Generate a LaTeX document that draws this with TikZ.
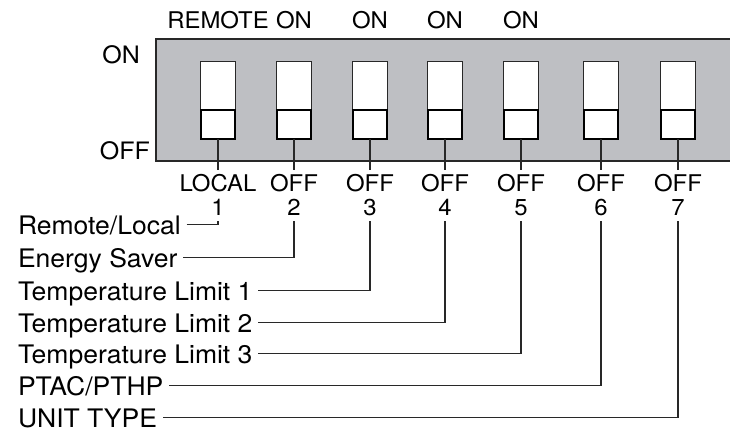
\documentclass[tikz,border=0pt]{standalone}
\usepackage{fontspec}
\setmainfont{TeX Gyre Heros}[FakeStretch=1.04]
\definecolor{panelgray}{RGB}{190,191,195}
\definecolor{edgegray}{RGB}{40,40,40}
\begin{document}
\begin{tikzpicture}[x=1pt,y=-1pt,
  panel/.style={fill=panelgray},
  paneledge/.style={draw=edgegray,line width=2.2pt},
  swtop/.style={draw=edgegray,fill=white,line width=1pt,minimum width=34.5pt,minimum height=77pt,inner sep=0pt,outer sep=0pt},
  swbot/.style={draw=black,fill=white,line width=2pt,minimum width=34.5pt,minimum height=29pt,inner sep=0pt,outer sep=0pt},
  toplbl/.style={anchor=base,inner sep=0pt,font=\fontsize{23}{26}\selectfont},
  sidelbl/.style={anchor=base east,inner sep=0pt,font=\fontsize{24}{27}\selectfont},
  offlbl/.style={anchor=base,inner sep=0pt,outer sep=4pt,font=\fontsize{23}{26}\selectfont},
  numlbl/.style={anchor=base,inner sep=0pt,outer sep=6pt,font=\fontsize{23}{26}\selectfont},
  namelbl/.style={anchor=base west,inner sep=0pt,outer xsep=6pt,text height=19pt,text depth=0pt,font=\fontsize{25.5}{30}\selectfont},
  conn/.style={draw=edgegray,line width=1.1pt}
]
\useasboundingbox (0,0) rectangle (730,433);
% panel
\fill[panel] (156,39) rectangle (735,161);
\draw[paneledge] (735,39) -- (156,39) -- (156,161) -- (735,161);
% side labels
\node[sidelbl] (onside) at (140,64) {ON};
\node[sidelbl] (offside) at (150,159) {OFF};
% switches
\foreach \i/\x in {1/218,2/294,3/370,4/445,5/521,6/601,7/678}{
  \node[swtop] (s\i) at (\x,100.5) {};
  \node[swbot] (b\i) at (\x,124.5) {};
}
% top labels
\node[toplbl] (t1) at (218,29) {REMOTE};
\node[toplbl] (t2) at (294,29) {ON};
\node[toplbl] (t3) at (370,29) {ON};
\node[toplbl] (t4) at (445,29) {ON};
\node[toplbl] (t5) at (521,29) {ON};
% bottom labels
\node[offlbl] (o1) at (218,191) {LOCAL};
\node[offlbl] (o2) at (294,191) {OFF};
\node[offlbl] (o3) at (370,191) {OFF};
\node[offlbl] (o4) at (445,191) {OFF};
\node[offlbl] (o5) at (521,191) {OFF};
\node[offlbl] (o6) at (601,191) {OFF};
\node[offlbl] (o7) at (678,191) {OFF};
% numbers
\foreach \i/\x in {1/218,2/294,3/370,4/445,5/521,6/601,7/678}{
  \node[numlbl] (n\i) at (\x,215) {\i};
}
% names
\node[namelbl] (l1) at (12,234) {Remote/Local};
\node[namelbl] (l2) at (12,267) {Energy Saver};
\node[namelbl] (l3) at (12,300) {Temperature Limit 1};
\node[namelbl] (l4) at (12,332) {Temperature Limit 2};
\node[namelbl] (l5) at (12,363) {Temperature Limit 3};
\node[namelbl] (l6) at (12,395) {PTAC/PTHP};
\node[namelbl] (l7) at (12,427) {UNIT TYPE};
% connectors
\foreach \i in {1,...,7}{
  \draw[conn] (b\i.south) -- (o\i.north);
  \draw[conn] (l\i.east) -| (n\i.south);
}
\end{tikzpicture}
\end{document}
